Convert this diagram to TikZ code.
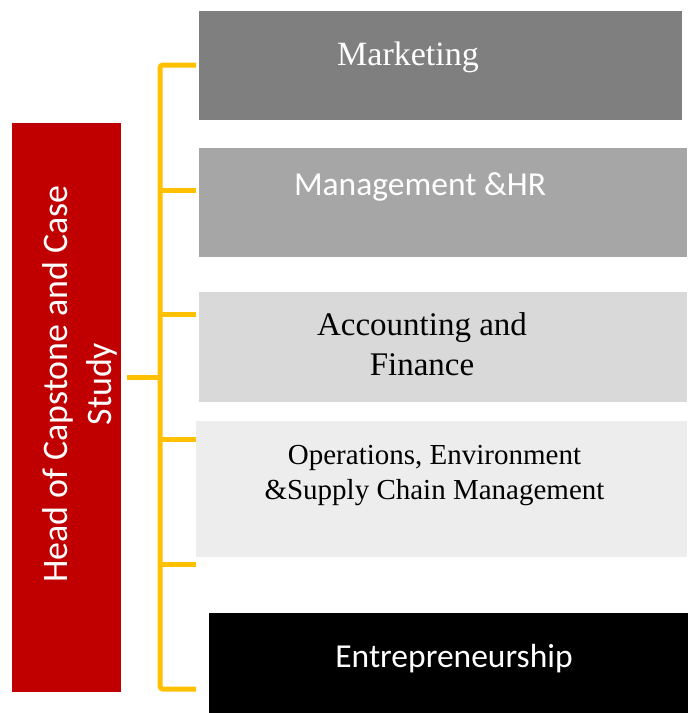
\documentclass[tikz,border=0pt]{standalone}
\usepackage{fontspec}
\setmainfont{Liberation Serif}
\newfontfamily\carlito{Carlito}
\definecolor{mktgray}{HTML}{7F7F7F}
\definecolor{mgmtgray}{HTML}{A6A6A6}
\definecolor{accgray}{HTML}{D9D9D9}
\definecolor{opsgray}{HTML}{EDEDED}
\definecolor{headred}{HTML}{C00000}
\definecolor{bracketyellow}{HTML}{FFC000}
\tikzset{
  box/.style={rectangle, draw=none, inner sep=0pt, anchor=north west},
  lbl/.style={inner sep=0pt, align=center},
  bracket/.style={draw=bracketyellow, line width=5pt},
}
\begin{document}
\begin{tikzpicture}[x=1pt,y=-1pt]
\useasboundingbox (0,0) rectangle (688,713);
% boxes
\node[box, fill=headred, minimum width=109pt, minimum height=569pt] (head) at (12,123) {};
\node[box, fill=mktgray, minimum width=483pt, minimum height=109pt] (mkt) at (199,11) {};
\node[box, fill=mgmtgray, minimum width=488pt, minimum height=109pt] (mgmt) at (199,148) {};
\node[box, fill=accgray, minimum width=488pt, minimum height=110pt] (acc) at (199,292) {};
\node[box, fill=opsgray, minimum width=491pt, minimum height=136pt] (ops) at (196,421) {};
\node[box, fill=black, minimum width=479pt, minimum height=100pt] (ent) at (209,613) {};
% texts
\node[lbl, rotate=90, text=white, font=\carlito\fontsize{35.9}{44}\selectfont] (headT) at (80.3,384) {Head of Capstone and Case\\Study};
\node[lbl, anchor=base, text=white, font=\fontsize{34}{40}\selectfont] (mktT) at (408,65) {Marketing};
\node[lbl, anchor=base, text=white, font=\carlito\fontsize{33.5}{40}\selectfont] (mgmtT) at (420,195) {Management \&HR};
\node[lbl, text=black, font=\fontsize{33}{40}\selectfont] (accT) at (422,343.75) {Accounting and\\Finance};
\node[lbl, text=black, font=\fontsize{29}{35}\selectfont] (opsT) at (434.5,475.6) {Operations, Environment\\\&Supply Chain Management};
\node[lbl, anchor=base, text=white, font=\carlito\fontsize{33.5}{40}\selectfont] (entT) at (454,667) {Entrepreneurship};
% bracket coordinates
\coordinate (t1) at (196,65);
\coordinate (t2) at (196,190);
\coordinate (t3) at (196,314);
\coordinate (t4) at (196,439);
\coordinate (t5) at (196,564);
\coordinate (t6) at (196,689);
\coordinate (hub) at (160,377);
\draw[bracket, rounded corners=3pt] (t1) -- (hub |- t1) -- (hub |- t6) -- (t6);
\foreach \t in {t2,t3,t4,t5} \draw[bracket] (hub |- \t) -- (\t);
\draw[bracket, shorten <=6pt] (head.east |- hub) -- (hub);
\end{tikzpicture}
\end{document}
